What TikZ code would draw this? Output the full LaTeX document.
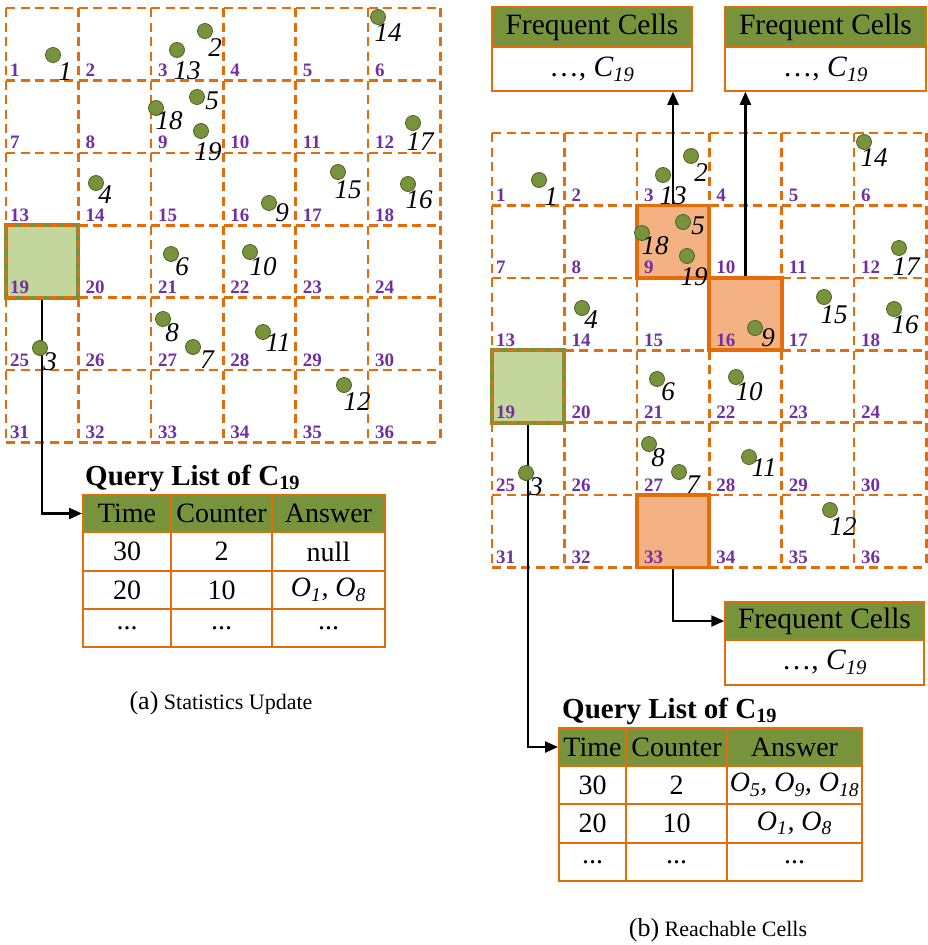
\documentclass[tikz,border=0pt]{standalone}
\usepackage{fontspec}
\setmainfont{Liberation Serif}
\usetikzlibrary{arrows.meta,calc}
\definecolor{gridorange}{HTML}{E46C0A}
\definecolor{hdrgreen}{HTML}{77933C}
\definecolor{lightgreen}{HTML}{C3D69B}
\definecolor{darkgreen}{HTML}{76923C}
\definecolor{lightorange}{HTML}{F4B183}
\definecolor{cellpurple}{HTML}{7030A0}
\definecolor{dotfill}{HTML}{77933C}
\definecolor{dotdraw}{HTML}{4F6228}
\tikzset{
 gridline/.style={gridorange, line width=2.6pt, dash pattern=on 9pt off 5.5pt},
 cellnum/.style={anchor=base west, inner sep=0, text=cellpurple, font=\fontsize{19}{19}\selectfont\bfseries},
 dot/.style={circle, fill=dotfill, draw=dotdraw, line width=0.8pt, minimum size=15pt, inner sep=0},
 ptlabel/.style={inner sep=0, font=\fontsize{27}{27}\selectfont\itshape},
 greencell/.style={rectangle, fill=lightgreen, draw=darkgreen, line width=4pt, minimum size=72.4pt, inner sep=0},
 orangecell/.style={rectangle, fill=lightorange, draw=gridorange, line width=3.8pt, minimum size=72.4pt, inner sep=0},
 tcell/.style={rectangle, draw=gridorange, line width=2pt, inner sep=0, font=\fontsize{28}{28}\selectfont},
 thead/.style={tcell, fill=hdrgreen},
 fcell/.style={rectangle, draw=gridorange, line width=1.5pt, inner sep=0, font=\fontsize{29.5}{29.5}\selectfont},
 fhead/.style={fcell, fill=hdrgreen},
 qtitle/.style={anchor=base west, inner sep=0, font=\fontsize{29}{29}\selectfont\bfseries},
 capt/.style={inner sep=0, font=\fontsize{22}{22}\selectfont},
 arr/.style={line width=2.3pt, -{Triangle[length=13pt,width=11pt]}},
}
\newcommand\gridbase[3]{%
 \foreach \i in {0,...,6} {
   \draw[gridline] ({#1+72.4*\i},#2) -- ({#1+72.4*\i},{#2+434.4});
   \draw[gridline] (#1,{#2+72.4*\i}) -- ({#1+434.4},{#2+72.4*\i});
 }
 \foreach \r in {0,...,5} { \foreach \c in {0,...,5} {
   \pgfmathtruncatemacro\cn{6*\r+\c+1}
   \pgfmathsetmacro\cx{#1+72.4*\c+(\c==0?4:7)}
   \pgfmathsetmacro\cy{#2+72.4*(\r+1)-4}
   \node[cellnum] (#3n\cn) at (\cx,\cy) {\cn};
 }}
}
\newcommand\gridpoints[3]{%
 \foreach \n/\x/\y/\lx/\ly in {1/53/55/65/72, 2/205/31/215/48, 3/40/348/50/362, 4/96/183/105/195,
   5/197/97/212/101, 6/171/254/182/267, 7/193/347/207/360, 8/163/319/172/333, 9/269/203/282/213,
   10/250/252/263/267, 11/263/332/278/343, 12/344/385/357/402, 13/177/50/187/71, 14/378/17/388/33,
   15/338/172/348/190, 16/408/184/419/200, 17/413/123/420/142, 18/156/108/169/121, 19/201/131/208/152} {
   \node[dot] (#1p\n) at ({\x+#2},{\y+#3}) {};
   \node[ptlabel] (#1l\n) at ({\lx+#2},{\ly+#3}) {\n};
 }
}
\begin{document}
\begin{tikzpicture}[x=1pt,y=-1pt]
\useasboundingbox (0,0) rectangle (928,945);
% ---------- left panel ----------
\node[greencell] (Lc19) at (42.2,261.4) {};
\gridbase{6}{8}{L}
% query list (a)
\node[qtitle] (Lqt) at (85,485) {Query List of C\textsubscript{19}};
\node[thead, minimum width=88pt, minimum height=37pt] (Lt11) at (127,513.5) {Time};
\node[thead, minimum width=101pt, minimum height=37pt] (Lt12) at (221.5,513.5) {Counter};
\node[thead, minimum width=113pt, minimum height=37pt] (Lt13) at (328.5,513.5) {Answer};
\node[tcell, minimum width=88pt, minimum height=39pt] (Lt21) at (127,551.5) {30};
\node[tcell, minimum width=101pt, minimum height=39pt] (Lt22) at (221.5,551.5) {2};
\node[tcell, minimum width=113pt, minimum height=39pt] (Lt23) at (328.5,551.5) {null};
\node[tcell, minimum width=88pt, minimum height=38pt] (Lt31) at (127,590) {20};
\node[tcell, minimum width=101pt, minimum height=38pt] (Lt32) at (221.5,590) {10};
\node[tcell, minimum width=113pt, minimum height=38pt] (Lt33) at (328.5,590) {\textit{O\textsubscript{1}, O\textsubscript{8}}};
\node[tcell, minimum width=88pt, minimum height=38pt] (Lt41) at (127,628) {...};
\node[tcell, minimum width=101pt, minimum height=38pt] (Lt42) at (221.5,628) {...};
\node[tcell, minimum width=113pt, minimum height=38pt] (Lt43) at (328.5,628) {...};
\node[capt] (Lcap) at (221,703) {{\fontsize{26}{26}\selectfont(a)} Statistics Update};
\draw[arr] (Lc19.south) |- (Lt11.west);
% ---------- right panel ----------
\node[greencell] (Rc19) at (528.2,386.4) {};
\node[orangecell] (Rc9) at (673,241.6) {};
\node[orangecell] (Rc16) at (745.4,314) {};
\node[orangecell] (Rc33) at (673,531.2) {};
\gridbase{492}{133}{R}
% frequent cells boxes
\node[fhead, minimum width=200pt, minimum height=40pt] (F1h) at (592,27) {Frequent Cells};
\node[fcell, minimum width=200pt, minimum height=44pt] (F1b) at (592,69) {\ldots, \textit{C\textsubscript{19}}};
\node[fhead, minimum width=201pt, minimum height=40pt] (F2h) at (825.5,27) {Frequent Cells};
\node[fcell, minimum width=201pt, minimum height=44pt] (F2b) at (825.5,69) {\ldots, \textit{C\textsubscript{19}}};
\node[fhead, minimum width=199pt, minimum height=38pt] (F3h) at (824.5,621) {Frequent Cells};
\node[fcell, minimum width=199pt, minimum height=45pt] (F3b) at (824.5,662.5) {\ldots, \textit{C\textsubscript{19}}};
% query list (b)
\node[qtitle] (Rqt) at (562,718) {Query List of C\textsubscript{19}};
\node[thead, minimum width=67pt, minimum height=38pt] (Rt11) at (592.5,747) {Time};
\node[thead, minimum width=101pt, minimum height=38pt] (Rt12) at (676.5,747) {Counter};
\node[thead, minimum width=135pt, minimum height=38pt] (Rt13) at (794.5,747) {Answer};
\node[tcell, minimum width=67pt, minimum height=38pt] (Rt21) at (592.5,785) {30};
\node[tcell, minimum width=101pt, minimum height=38pt] (Rt22) at (676.5,785) {2};
\node[tcell, minimum width=135pt, minimum height=38pt] (Rt23) at (794.5,785) {\textit{O\textsubscript{5}, O\textsubscript{9}, O\textsubscript{18}}};
\node[tcell, minimum width=67pt, minimum height=39pt] (Rt31) at (592.5,823.5) {20};
\node[tcell, minimum width=101pt, minimum height=39pt] (Rt32) at (676.5,823.5) {10};
\node[tcell, minimum width=135pt, minimum height=39pt] (Rt33) at (794.5,823.5) {\textit{O\textsubscript{1}, O\textsubscript{8}}};
\node[tcell, minimum width=67pt, minimum height=38pt] (Rt41) at (592.5,862) {...};
\node[tcell, minimum width=101pt, minimum height=38pt] (Rt42) at (676.5,862) {...};
\node[tcell, minimum width=135pt, minimum height=38pt] (Rt43) at (794.5,862) {...};
\node[capt] (Rcap) at (718,930) {{\fontsize{26}{26}\selectfont(b)} Reachable Cells};
% connectors
\draw[arr] (Rc9.north) -- (Rc9.north |- F1b.south);
\draw[arr] (Rc16.north) -- (Rc16.north |- F2b.south);
\draw[arr] (Rc33.south) |- (F3h.west);
\draw[arr] (Rc19.south) |- (Rt11.west);
% points
\gridpoints{L}{0}{0}
\gridpoints{R}{486}{125}
\end{tikzpicture}
\end{document}
